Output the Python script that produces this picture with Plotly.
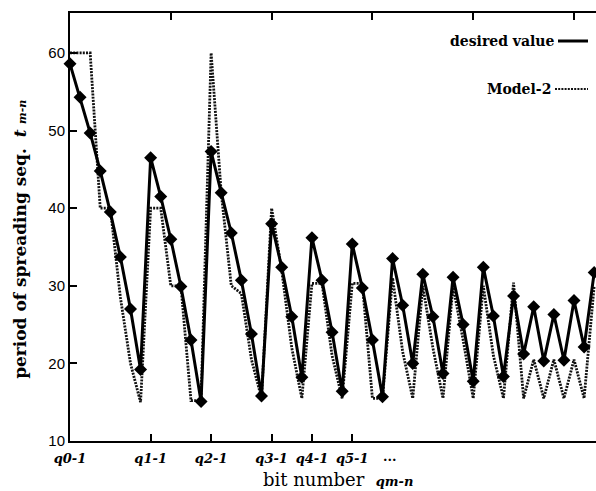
import plotly.graph_objects as go

# ---- data ----
bit_index = list(range(53))
desired_value = [58.6, 54.3, 49.7, 44.8, 39.5, 33.7, 27.0, 19.2,
                 46.5, 41.5, 36.0, 29.9, 23.0, 15.1,
                 47.3, 42.0, 36.8, 30.7, 23.8, 15.8,
                 38.0, 32.4, 26.0, 18.2,
                 36.2, 30.7, 24.0, 16.4,
                 35.4, 29.7, 23.0, 15.7,
                 33.5, 27.5, 20.0,
                 31.5, 26.0, 18.7,
                 31.1, 25.0, 17.7,
                 32.4, 26.1, 18.3,
                 28.7, 21.2,
                 27.3, 20.3,
                 26.3, 20.4,
                 28.1, 22.1,
                 31.7]
model_2 = [60, 60, 60, 40, 40, 28.5, 20, 15,
           40, 40, 30, 30, 15.2, 15.2,
           60, 42, 30, 29, 20.5, 15.5,
           40, 32, 22, 15.5,
           30.3, 30.3, 21, 15.5,
           30.3, 30.3, 15.5, 15.5,
           31, 21.5, 15.5,
           30, 22, 15.5,
           30, 23, 15.5,
           30, 21, 15.5,
           30.4, 15.5,
           20.5, 15.5,
           20.5, 15.5,
           20.5, 15.5,
           30]
q_positions = [0, 8, 14, 20, 24, 28]
q_labels = ["q0-1", "q1-1", "q2-1", "q3-1", "q4-1", "q5-1"]
top_ticks = [10, 20, 30, 40, 50]
y_ticks = [10, 20, 30, 40, 50, 60]

SERIF = "DejaVu Serif"
SANS = "Liberation Sans"
XR = [0, 52.18]
DOT = "2px,1.2px"

fig = go.Figure()
fig.add_trace(go.Scatter(
    x=bit_index, y=model_2, mode="lines", name="Model-2",
    line=dict(color="#111", width=2.8, dash=DOT),
    cliponaxis=False, showlegend=False))
fig.add_trace(go.Scatter(
    x=bit_index, y=desired_value, mode="lines+markers", name="desired value",
    line=dict(color="#000", width=3),
    marker=dict(symbol="diamond", size=10, color="#000"),
    cliponaxis=False, showlegend=False))
# invisible trace for the top axis
fig.add_trace(go.Scatter(x=[0], y=[10], xaxis="x2", mode="markers",
                         marker=dict(opacity=0), showlegend=False, hoverinfo="skip"))

fig.update_layout(
    width=596, height=491,
    margin=dict(l=70, r=0, t=13, b=50),
    paper_bgcolor="white", plot_bgcolor="white",
    xaxis=dict(range=XR, tickvals=q_positions, ticktext=[f"<b><i>{t}</i></b>" for t in q_labels],
               ticks="inside", ticklen=7, tickwidth=1.5, tickcolor="#000", ticklabelstandoff=4,
               showline=True, linewidth=2, linecolor="#000", showgrid=False, zeroline=False,
               tickfont=dict(family=SERIF, size=13, color="#000")),
    xaxis2=dict(range=XR, overlaying="x", side="top", tickvals=top_ticks,
                ticks="inside", ticklen=7, tickwidth=1.5, tickcolor="#000",
                showticklabels=False, showline=True, linewidth=2, linecolor="#000",
                showgrid=False, zeroline=False),
    yaxis=dict(range=[10, 65.15], tickvals=y_ticks,
               ticks="inside", ticklen=7, tickwidth=1.5, tickcolor="#000",
               showline=True, linewidth=2, linecolor="#000", showgrid=False, zeroline=False,
               tickfont=dict(family=SANS, size=15, color="#000")),
)

# axis titles
fig.add_annotation(xref="paper", yref="paper", x=-0.095, y=0.47, xanchor="center", yanchor="middle",
                   textangle=-90, showarrow=False,
                   text="<b>period of spreading seq.</b>  <b><i>t</i></b> <span style='font-size:11px'><b><i>m-n</i></b></span>",
                   font=dict(family=SERIF, size=17, color="#000"))
fig.add_annotation(xref="paper", yref="paper", x=0.51, y=0, yshift=-38, xanchor="center", yanchor="middle",
                   showarrow=False,
                   text="bit number  <span style='font-size:13px'><b><i>qm-n</i></b></span>",
                   font=dict(family=SERIF, size=18, color="#000"))
fig.add_annotation(xref="x", yref="paper", x=31.7, y=0, yshift=-15, xanchor="center", yanchor="middle",
                   showarrow=False, text="<b>...</b>", font=dict(family=SERIF, size=13, color="#000"))

# legend (text then line sample, as in the original)
fig.add_annotation(xref="paper", yref="paper", x=(557 - 70) / 526, y=(441 - 41) / 428,
                   xanchor="right", yanchor="middle", showarrow=False,
                   text="<b>desired value</b>", font=dict(family=SERIF, size=14, color="#000"))
fig.add_shape(type="line", xref="paper", yref="paper", x0=(558 - 70) / 526, x1=(588 - 70) / 526,
              y0=(441 - 41) / 428, y1=(441 - 41) / 428, line=dict(color="#000", width=3))
fig.add_annotation(xref="paper", yref="paper", x=(553 - 70) / 526, y=(441 - 89) / 428,
                   xanchor="right", yanchor="middle", showarrow=False,
                   text="<b>Model-2</b>", font=dict(family=SERIF, size=14, color="#000"))
fig.add_shape(type="line", xref="paper", yref="paper", x0=(555 - 70) / 526, x1=(588 - 70) / 526,
              y0=(441 - 89) / 428, y1=(441 - 89) / 428, line=dict(color="#111", width=2.2, dash=DOT))

fig.write_html("out.html")
